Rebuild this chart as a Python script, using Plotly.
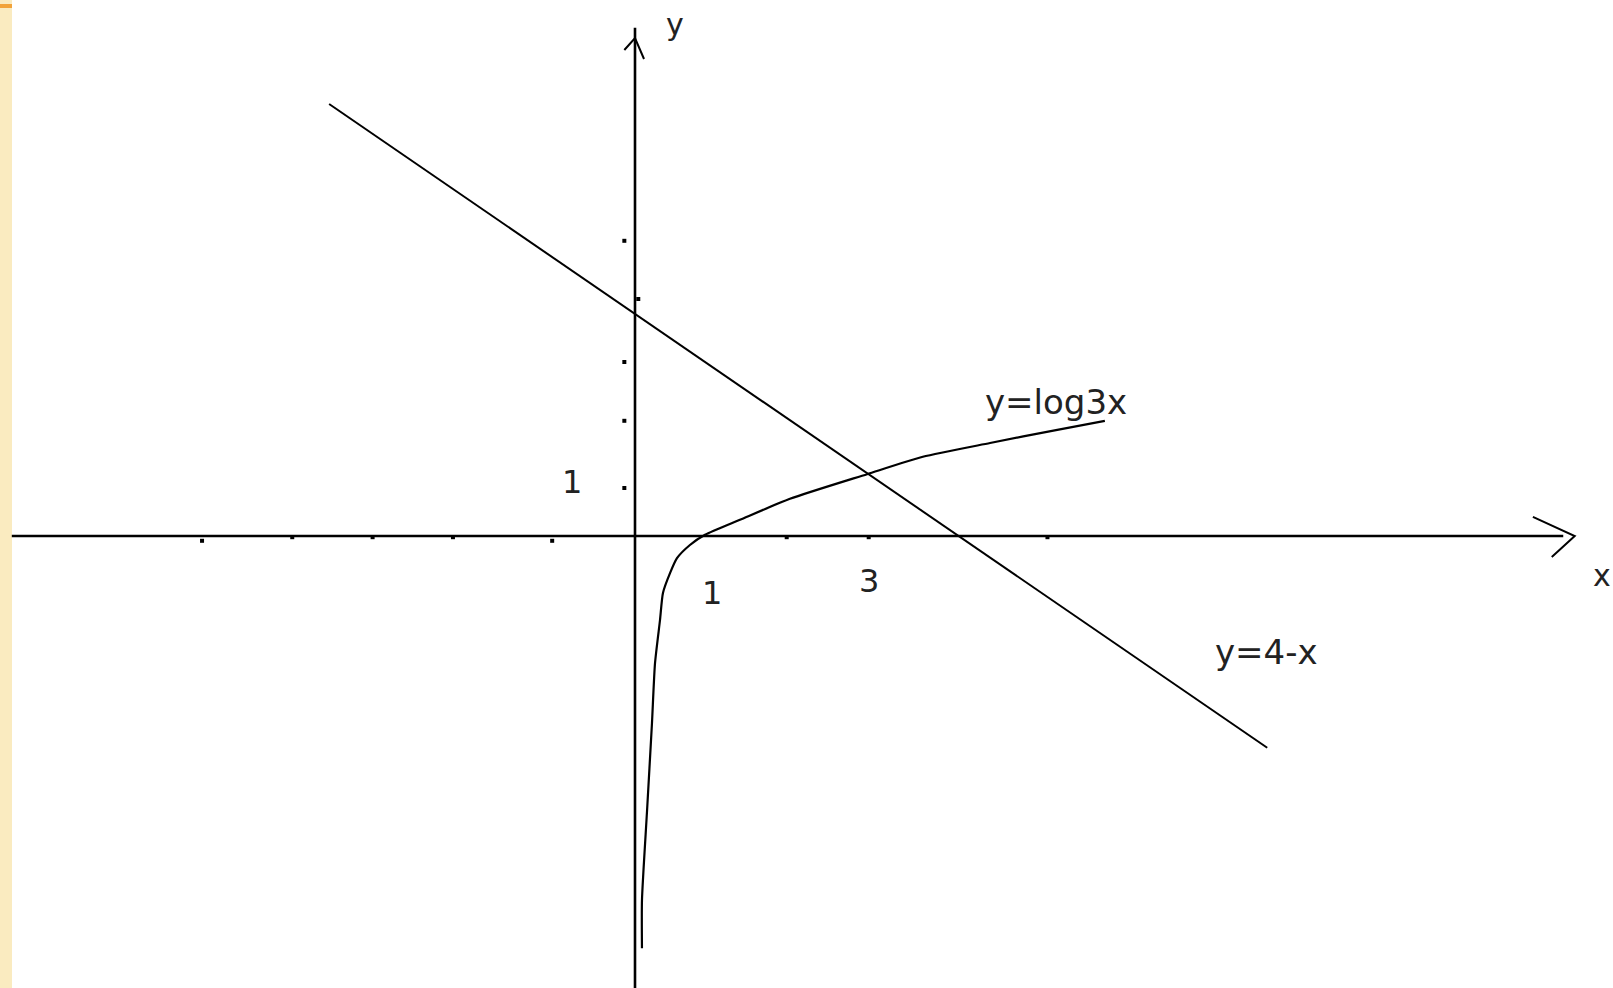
import plotly.graph_objects as go

# values (graph units)
log_x = [0.085, 0.085, 0.146, 0.207, 0.244, 0.305, 0.341, 0.427, 0.512, 0.67,
         0.854, 1.28, 1.89, 2.83, 3.51, 4.33, 5.15, 5.73]
log_y = [-6.87, -6.07, -4.6, -3.12, -2.12, -1.4, -0.95, -0.62, -0.37, -0.15,
         0.02, 0.27, 0.62, 1.03, 1.32, 1.55, 1.77, 1.92]

line_x = [-3.73, 7.71]
line_y = [7.2, -3.53]

xaxis_x = [-7.6, 11.32]
yaxis_y = [-7.6, 8.47]
x_arrow_x = [10.95, 11.46, 11.18]
x_arrow_y = [0.32, 0.0, -0.35]
y_arrow_x = [-0.13, 0.0, 0.11]
y_arrow_y = [8.1, 8.3, 7.95]

xdot_x = [-5.28, -4.18, -3.2, -2.22, -1.01, 1.85, 2.85, 5.03]
xdot_y = [-0.08, -0.02, -0.02, -0.02, -0.08, -0.02, -0.02, -0.02]
ydot_x = [-0.13, -0.13, -0.13, -0.13, 0.04]
ydot_y = [4.92, 2.9, 1.92, 0.8, 3.95]

labels = ['y=log3x', 'y=4-x', '1', '1', '3', 'y', 'x']
label_x = [5.13, 7.7, -0.77, 0.94, 2.85, 0.49, 11.79]
label_y = [2.23, -1.93, 0.9, -0.95, -0.75, 8.52, -0.65]
label_size = [34, 34, 32, 32, 32, 30, 30]

X0, Y0 = 635, 536
UX, UY = 82, 60
W, H = 1613, 988

fig = go.Figure()

blk = dict(color='black', width=2.6)
fig.add_trace(go.Scatter(x=xaxis_x, y=[0, 0], mode='lines', line=blk))
fig.add_trace(go.Scatter(x=[0, 0], y=yaxis_y, mode='lines', line=blk))
fig.add_trace(go.Scatter(x=x_arrow_x, y=x_arrow_y, mode='lines', line=dict(color='black', width=2)))
fig.add_trace(go.Scatter(x=y_arrow_x, y=y_arrow_y, mode='lines', line=dict(color='black', width=2)))

fig.add_trace(go.Scatter(x=line_x, y=line_y, mode='lines', line=dict(color='black', width=2)))
fig.add_trace(go.Scatter(x=log_x, y=log_y, mode='lines', line=dict(color='black', width=2.2, shape='spline', smoothing=0.6)))

fig.add_trace(go.Scatter(x=xdot_x, y=xdot_y, mode='markers',
                         marker=dict(color='black', size=4, symbol='square')))
fig.add_trace(go.Scatter(x=ydot_x, y=ydot_y, mode='markers',
                         marker=dict(color='black', size=4, symbol='square')))

for t, lx, ly, s in zip(labels, label_x, label_y, label_size):
    fig.add_annotation(x=lx, y=ly, text=t, showarrow=False,
                       font=dict(family='DejaVu Sans', size=s, color='#222'))

# cream stripe on the left edge with a little orange bar at the top
fig.add_shape(type='rect', xref='paper', yref='paper', x0=0, x1=12 / W, y0=0, y1=1,
              fillcolor='#FAEBC0', line_width=0, layer='below')
fig.add_shape(type='rect', xref='paper', yref='paper', x0=0, x1=12 / W,
              y0=1 - 8 / H, y1=1 - 4 / H, fillcolor='#F2A33A', line_width=0)

fig.update_layout(
    width=W, height=H,
    margin=dict(l=0, r=0, t=0, b=0),
    paper_bgcolor='white', plot_bgcolor='white',
    showlegend=False,
    hovermode=False,
    xaxis=dict(range=[-X0 / UX, (W - X0) / UX], visible=False, fixedrange=True),
    yaxis=dict(range=[(Y0 - H) / UY, Y0 / UY], visible=False, fixedrange=True),
)

fig.write_html("out.html", config={'displayModeBar': False},
               post_script="document.body.style.margin='0';document.body.style.overflow='hidden';")
